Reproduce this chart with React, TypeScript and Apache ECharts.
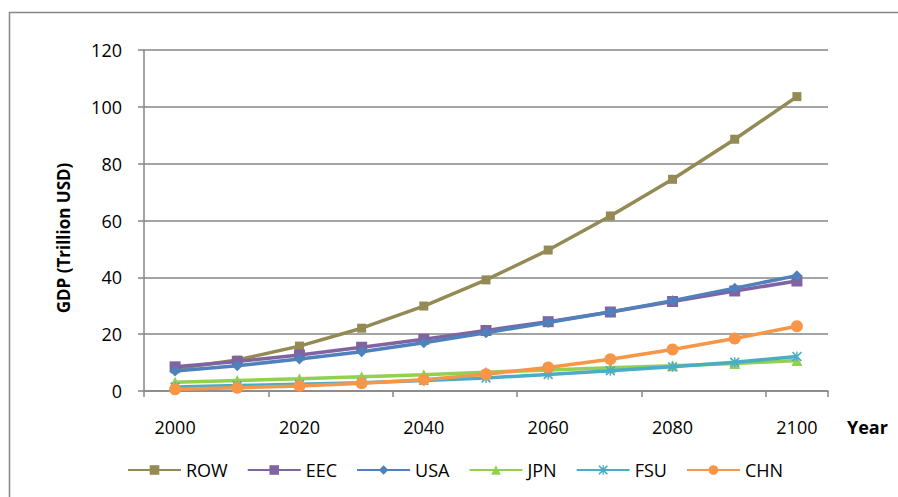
import React, { useEffect, useRef } from "react";
import * as echarts from "echarts";

const years = ["2000", "2010", "2020", "2030", "2040", "2050", "2060", "2070", "2080", "2090", "2100"];
const seriesNames = ["ROW", "EEC", "USA", "JPN", "FSU", "CHN"];
const ROW = [7.8, 10.9, 15.8, 22.1, 29.9, 39.1, 49.6, 61.6, 74.5, 88.6, 103.6];
const EEC = [8.5, 10.4, 12.7, 15.4, 18.2, 21.3, 24.4, 27.8, 31.5, 35.2, 38.7];
const USA = [7.0, 8.9, 11.3, 13.8, 17.0, 20.5, 24.1, 27.8, 31.8, 36.2, 40.6];
const JPN = [3.1, 3.7, 4.3, 5.0, 5.7, 6.6, 7.4, 8.2, 8.9, 9.7, 10.7];
const FSU = [1.4, 1.9, 2.4, 2.9, 3.7, 4.6, 5.8, 7.1, 8.5, 10.1, 12.1];
const CHN = [0.6, 1.1, 1.8, 2.7, 4.0, 5.9, 8.3, 11.2, 14.6, 18.5, 22.8];
const yMin = 0;
const yMax = 120;
const yStep = 20;

const colors = ["#948A54", "#8064A2", "#4F81BD", "#92D050", "#4BACC6", "#F79646"];
const starX =
  "path://M0,1.2L1.2,0L5,3.8L8.8,0L10,1.2L6.2,5L10,8.8L8.8,10L5,6.2L1.2,10L0,8.8L3.8,5Z M4.3,0L5.7,0L5.7,10L4.3,10Z";
const symbols = ["rect", "rect", "diamond", "triangle", starX, "circle"];
const symbolSizes = [9, 11, 11, 11, 10, 12];

const FONT = "'Open Sans', 'Liberation Sans', sans-serif";

export default function App() {
  const ref = useRef<HTMLDivElement>(null);
  useEffect(() => {
    if (!ref.current) return;
    const chart = echarts.init(ref.current, undefined, { renderer: "svg" });
    const data = [ROW, EEC, USA, JPN, FSU, CHN];
    chart.setOption({
      animation: false,
      backgroundColor: "#ffffff",
      grid: { left: 144, right: 70, top: 50, bottom: 106, containLabel: false },
      legend: {
        left: 122,
        top: 456,
        itemWidth: 53,
        itemHeight: 12,
        itemGap: 19,
        data: seriesNames,
        textStyle: { fontFamily: FONT, fontSize: 18, color: "#000", padding: [0, 0, 0, 0] },
      },
      xAxis: {
        type: "category",
        data: years,
        boundaryGap: true,
        axisLine: { show: true, lineStyle: { color: "#868686", width: 1.5 } },
        axisTick: { show: true, interval: 1, length: 6, lineStyle: { color: "#868686", width: 1.5 } },
        axisLabel: {
          interval: 1,
          margin: 27,
          color: "#000",
          fontFamily: FONT,
          fontSize: 18,
        },
        splitLine: { show: false },
      },
      yAxis: {
        type: "value",
        min: yMin,
        max: yMax,
        interval: yStep,
        axisLine: { show: true, lineStyle: { color: "#868686", width: 1.5 } },
        axisTick: { show: true, length: 6, lineStyle: { color: "#868686", width: 1.5 } },
        axisLabel: { margin: 22, color: "#000", fontFamily: FONT, fontSize: 18 },
        splitLine: { show: true, lineStyle: { color: "#868686", width: 1.5 } },
      },
      series: seriesNames.map((name, i) => ({
        name,
        type: "line",
        data: data[i],
        symbol: symbols[i],
        symbolSize: symbolSizes[i],
        showAllSymbol: true,
        lineStyle: { color: colors[i], width: 3.5 },
        itemStyle: { color: colors[i] },
        z: 2 + i,
      })),
      graphic: [
        {
          type: "rect",
          shape: { x: 9.5, y: 12.5, width: 1000, height: 1000 },
          style: { fill: "none", stroke: "#868686", lineWidth: 1.5 },
          silent: true,
        },
        {
          type: "text",
          x: 63,
          y: 238,
          rotation: Math.PI / 2,
          style: {
            text: "GDP (Trillion USD)",
            fontFamily: FONT,
            fontSize: 17,
            fontWeight: "bold",
            fill: "#000",
            align: "center",
            verticalAlign: "middle",
          },
        },
        {
          type: "text",
          x: 847,
          y: 427,
          style: {
            text: "Year",
            fontFamily: FONT,
            fontSize: 18,
            fontWeight: "bold",
            fill: "#000",
            align: "left",
            verticalAlign: "middle",
          },
        },
      ],
    });
    return () => chart.dispose();
  }, []);
  return (
    <div
      ref={ref}
      style={{ position: "fixed", left: 0, top: 0, width: 898, height: 497 }}
    />
  );
}
